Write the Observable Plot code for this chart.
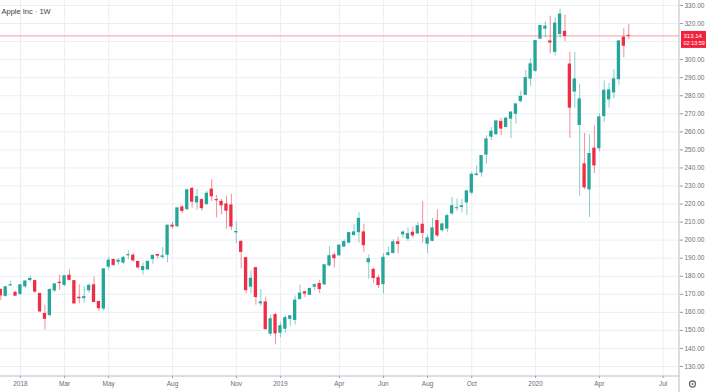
<!DOCTYPE html>
<html><head><meta charset="utf-8">
<script src="https://cdn.jsdelivr.net/npm/d3@7"></script>
<script src="https://cdn.jsdelivr.net/npm/@observablehq/plot@0.6"></script>
<style>
html,body{margin:0;padding:0;background:#fff;}
#chart{width:706px;height:392px;overflow:hidden;}
</style></head><body><div id="chart"></div>
<script>
const title = "Apple Inc · 1W";
const lastPrice = 313.14;
const countdown = "02:13:59";

const weeks = [
"2017-12-04","2017-12-11","2017-12-18","2017-12-25",
"2018-01-01","2018-01-08","2018-01-15","2018-01-22","2018-01-29",
"2018-02-05","2018-02-12","2018-02-19","2018-02-26",
"2018-03-05","2018-03-12","2018-03-19","2018-03-26",
"2018-04-02","2018-04-09","2018-04-16","2018-04-23","2018-04-30",
"2018-05-07","2018-05-14","2018-05-21","2018-05-28",
"2018-06-04","2018-06-11","2018-06-18","2018-06-25",
"2018-07-02","2018-07-09","2018-07-16","2018-07-23","2018-07-30",
"2018-08-06","2018-08-13","2018-08-20","2018-08-27",
"2018-09-03","2018-09-10","2018-09-17","2018-09-24",
"2018-10-01","2018-10-08","2018-10-15","2018-10-22","2018-10-29",
"2018-11-05","2018-11-12","2018-11-19","2018-11-26",
"2018-12-03","2018-12-10","2018-12-17","2018-12-24","2018-12-31",
"2019-01-07","2019-01-14","2019-01-21","2019-01-28",
"2019-02-04","2019-02-11","2019-02-18","2019-02-25",
"2019-03-04","2019-03-11","2019-03-18","2019-03-25",
"2019-04-01","2019-04-08","2019-04-15","2019-04-22","2019-04-29",
"2019-05-06","2019-05-13","2019-05-20","2019-05-27",
"2019-06-03","2019-06-10","2019-06-17","2019-06-24",
"2019-07-01","2019-07-08","2019-07-15","2019-07-22","2019-07-29",
"2019-08-05","2019-08-12","2019-08-19","2019-08-26",
"2019-09-02","2019-09-09","2019-09-16","2019-09-23","2019-09-30",
"2019-10-07","2019-10-14","2019-10-21","2019-10-28",
"2019-11-04","2019-11-11","2019-11-18","2019-11-25",
"2019-12-02","2019-12-09","2019-12-16","2019-12-23","2019-12-30",
"2020-01-06","2020-01-13","2020-01-20","2020-01-27",
"2020-02-03","2020-02-10","2020-02-17","2020-02-24",
"2020-03-02","2020-03-09","2020-03-16","2020-03-23","2020-03-30",
"2020-04-06","2020-04-13","2020-04-20","2020-04-27",
"2020-05-04","2020-05-11","2020-05-18"
];

const open = [
172.5,169.1,174.9,170.8,
170.2,174.4,177.9,177.3,170.2,
159.1,158.5,172.1,176.4,
175.2,180.3,177.3,168.1,
167.9,172.2,175.0,165.7,162.1,
185.3,189.0,188.0,187.6,
191.6,191.4,187.9,183.4,
183.8,189.5,191.8,190.7,191.9,
208.0,207.7,218.1,217.2,
228.4,220.9,222.2,220.0,
228.0,222.2,221.2,219.8,219.2,
204.3,199.0,190.0,174.2,
184.5,165.0,165.5,148.2,158.5,
148.7,150.9,156.4,155.8,
167.4,171.1,169.7,174.2,
175.7,175.5,186.0,191.5,
191.6,196.4,198.6,202.8,204.4,
204.3,187.7,183.5,178.9,
175.6,191.8,192.9,198.8,
203.2,200.8,204.1,203.7,208.5,
198.0,199.6,210.6,205.5,
206.4,214.8,217.7,218.4,220.9,
226.3,236.1,237.5,247.4,
257.3,258.7,265.5,262.7,
267.3,270.0,277.0,280.5,289.5,
293.8,311.6,317.2,310.1,
304.3,314.2,315.4,297.3,
282.3,263.8,242.0,228.1,250.7,
250.9,268.7,278.0,281.8,
289.2,312.2,313.17
];

const high = [
172.6,174.2,177.2,171.5,
175.4,177.4,180.1,177.8,170.2,
163.9,173.1,175.7,180.6,
180.0,183.5,177.5,175.2,
174.2,175.8,179.5,166.3,184.3,
190.4,189.5,189.7,191.0,
194.0,192.6,188.4,187.3,
188.0,191.8,192.0,196.0,208.4,
209.8,218.0,219.2,228.3,
229.2,228.0,222.9,227.0,
233.5,224.8,222.6,224.2,225.4,
210.1,199.9,190.7,182.8,
184.9,172.6,168.4,158.5,159.4,
154.5,158.0,158.1,169.0,
175.1,171.7,173.3,175.9,
177.8,186.4,196.3,192.9,
197.0,200.2,204.2,208.5,215.3,
208.8,191.8,184.4,180.6,
192.5,196.0,200.3,201.6,
205.1,207.0,207.2,209.7,221.4,
202.8,212.1,216.8,209.3,
214.4,223.7,222.9,222.5,227.5,
237.6,241.0,247.0,257.9,
262.5,266.0,267.4,268.0,
271.0,275.3,282.7,294.0,300.6,
310.4,318.7,321.0,324.1,
323.4,327.9,324.7,304.2,
304.0,286.4,259.1,258.3,263.3,
270.1,288.2,286.8,294.5,
310.4,317.1,319.5
];

const low = [
166.5,168.4,174.6,169.2,
169.3,173.0,176.6,170.6,160.0,
150.2,157.5,171.0,172.1,
174.3,177.6,164.9,164.7,
164.9,170.5,165.4,160.6,160.6,
183.4,185.3,186.1,186.3,
189.3,187.5,183.7,180.7,
183.4,186.6,189.7,189.5,187.5,
206.2,206.9,214.8,216.2,
217.7,216.5,216.0,219.0,
221.3,212.3,214.0,206.1,205.4,
198.2,184.0,170.3,170.3,
164.0,163.3,150.1,146.6,142.0,
145.9,148.5,152.3,153.0,
166.5,168.2,169.5,172.0,
170.3,174.9,185.0,184.6,
191.0,196.2,198.2,202.3,198.4,
193.3,178.3,176.0,173.2,
170.3,191.0,192.3,192.4,
201.0,199.3,201.0,203.3,198.4,
192.6,199.1,201.5,204.4,
204.2,213.6,216.0,215.1,213.6,
225.0,235.4,234.9,242.0,
255.2,258.0,258.0,262.3,
256.3,264.3,276.0,280.4,285.1,
293.0,311.0,312.0,303.2,
302.0,312.0,310.0,256.4,
273.0,224.3,228.0,212.6,236.9,
249.0,265.1,273.2,278.2,
285.9,301.0,311.0
];

const close = [
169.4,173.9,175.0,169.2,
175.0,177.1,178.5,171.5,160.5,
156.4,172.4,175.5,176.2,
180.0,178.0,164.9,167.8,
168.4,174.7,165.7,162.3,183.8,
188.6,186.3,188.6,190.2,
191.7,188.8,184.9,185.1,
188.0,191.3,191.4,191.0,208.0,
207.5,217.6,216.2,227.6,
221.3,223.8,217.7,225.7,
224.3,222.1,219.3,216.3,207.5,
204.5,193.5,172.3,178.6,
168.5,165.5,150.7,156.2,148.3,
152.3,156.8,157.8,166.5,
170.4,170.4,173.0,175.0,
172.9,186.1,191.1,190.0,
197.0,198.9,203.9,204.3,211.8,
197.2,189.5,179.0,175.1,
190.2,192.7,198.8,197.9,
204.2,203.3,202.6,207.7,204.0,
201.0,206.5,202.6,208.7,
213.3,218.8,217.7,218.8,227.0,
236.2,236.4,246.6,255.8,
260.1,265.8,261.8,267.3,
270.7,275.2,279.4,289.8,297.4,
310.3,318.7,318.3,309.5,
320.0,325.0,313.1,273.4,
289.0,278.0,229.2,247.7,241.4,
268.0,282.8,283.0,289.1,
310.1,307.7,313.14
];

const priceTicks = [130,140,150,160,170,180,190,200,210,220,230,240,250,260,270,280,290,300,310,320,330];
const timeTicks = ["2018-01-01","2018-03-05","2018-05-07","2018-08-06","2018-11-05","2019-01-07","2019-04-01","2019-06-03","2019-08-05","2019-10-07","2020-01-06","2020-04-06","2020-07-06"];
const timeLabels = ["2018","Mar","May","Aug","Nov","2019","Apr","Jun","Aug","Oct","2020","Apr","Jul"];

const UP = "#26a69a", DOWN = "#ef2d45";
const FONT = "'Liberation Sans', Arial, sans-serif";
const data = weeks.map((w, i) => ({
  date: new Date(w + "T00:00:00Z"),
  open: open[i], high: high[i], low: low[i], close: close[i],
  color: close[i] >= open[i] ? UP : DOWN
}));
const tickDates = timeTicks.map(d => new Date(d + "T00:00:00Z"));
const labelMap = new Map(tickDates.map((d, i) => [+d, timeLabels[i]]));
// the price label box on the axis hides the tick label it covers
const visibleTicks = priceTicks.filter(t => Math.abs(t - lastPrice) > 5);

const W = 706, H = 392, mR = 27, mB = 16;
const halfWeek = 3.5 * 864e5;

const plot = Plot.plot({
  width: W, height: H,
  marginLeft: 0, marginRight: mR, marginTop: 0, marginBottom: mB,
  style: {fontFamily: FONT, fontSize: "6.5px", background: "#fff", color: "#6a6d78"},
  x: {type: "utc", domain: [new Date("2017-12-03T14:00:00Z"), new Date("2020-07-29T10:00:00Z")]},
  y: {domain: [124.45, 332.77]},
  marks: [
    Plot.gridX(tickDates, {stroke: "#eaeef5", strokeOpacity: 1}),
    Plot.gridY(priceTicks, {stroke: "#eaeef5", strokeOpacity: 1}),
    Plot.ruleY([lastPrice], {stroke: "#f59aa4", strokeWidth: 1}),
    Plot.ruleX(data, {x: "date", y1: "low", y2: "high", stroke: "color", strokeOpacity: 0.55, strokeWidth: 1}),
    Plot.rect(data, {
      x1: d => new Date(+d.date - halfWeek), x2: d => new Date(+d.date + halfWeek),
      y1: "open", y2: "close", fill: "color",
      insetLeft: 0.8, insetRight: 0.8, insetTop: -0.5, insetBottom: -0.5
    }),
    Plot.axisY(visibleTicks, {anchor: "right", tickSize: 3, tickPadding: 2, tickFormat: d => d.toFixed(2), stroke: "#9598a1", fill: "#6a6d78", label: null}),
    Plot.axisX(tickDates, {anchor: "bottom", tickSize: 2, tickPadding: 3, tickFormat: d => labelMap.get(+d), stroke: "#9598a1", fill: "#6a6d78", label: null}),
    Plot.text([title], {frameAnchor: "top-left", dx: 1, dy: 8, fontSize: 7.5, fill: "#3a3d46", textAnchor: "start"})
  ]
});

const svg = d3.select(plot);
const axX = W - mR;
svg.append("line").attr("x1", axX).attr("x2", axX).attr("y1", 0).attr("y2", H).attr("stroke", "#b8bcc6");
svg.append("line").attr("x1", 0).attr("x2", axX).attr("y1", H - mB).attr("y2", H - mB).attr("stroke", "#b8bcc6");
const py = plot.scale("y").apply(lastPrice);
const lbl = svg.append("g").attr("text-anchor", "start").attr("font-family", FONT);
lbl.append("rect").attr("x", axX + 2).attr("y", py - 4.5).attr("width", W - axX - 2).attr("height", 17).attr("fill", "#f0233d");
lbl.append("text").attr("x", axX + 4.5).attr("y", py + 2.5).attr("fill", "#fff").attr("font-size", 6).text(lastPrice.toFixed(2));
lbl.append("text").attr("x", axX + 4.5).attr("y", py + 10).attr("fill", "#fff").attr("font-size", 5.5).text(countdown);
// settings gear
const gear = svg.append("g").attr("transform", `translate(${(axX + W) / 2},${H - mB / 2})`);
gear.append("circle").attr("r", 3).attr("fill", "none").attr("stroke", "#6a6d78").attr("stroke-width", 1.3);
gear.append("circle").attr("r", 1).attr("fill", "#6a6d78");

document.getElementById("chart").append(plot);
</script>
</body></html>
